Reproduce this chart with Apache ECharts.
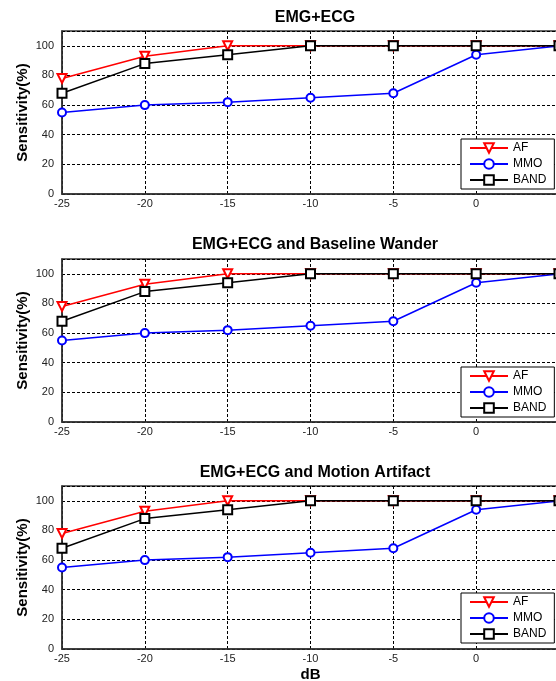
<!DOCTYPE html>
<html>
<head>
<meta charset="utf-8">
<script src="https://cdn.jsdelivr.net/npm/echarts@6/dist/echarts.min.js"></script>
<style>
html,body{margin:0;padding:0;background:#fff;}
#c{width:556px;height:681px;}
</style>
</head>
<body>
<div id="c"></div>
<script>
// ---- data ----
var xValues = [-25, -20, -15, -10, -5, 0, 5];
var panelTitles = ['EMG+ECG', 'EMG+ECG and Baseline Wander', 'EMG+ECG and Motion Artifact'];
var seriesNames = ['AF', 'MMO', 'BAND'];
// panel 1: EMG+ECG
var af1   = [78, 93, 100, 100, 100, 100, 100];
var mmo1  = [55, 60, 62, 65, 68, 94, 100];
var band1 = [68, 88, 94, 100, 100, 100, 100];
// panel 2: EMG+ECG and Baseline Wander
var af2   = [78, 93, 100, 100, 100, 100, 100];
var mmo2  = [55, 60, 62, 65, 68, 94, 100];
var band2 = [68, 88, 94, 100, 100, 100, 100];
// panel 3: EMG+ECG and Motion Artifact
var af3   = [78, 93, 100, 100, 100, 100, 100];
var mmo3  = [55, 60, 62, 65, 68, 94, 100];
var band3 = [68, 88, 94, 100, 100, 100, 100];
var yTicks = [0, 20, 40, 60, 80, 100];
var xAxisTitle = 'dB';
var yAxisTitle = 'Sensitivity(%)';

var panelData = [[af1, mmo1, band1], [af2, mmo2, band2], [af3, mmo3, band3]];

// ---- layout ----
var FONT = '"Liberation Sans", Arial, sans-serif';
var gridTops = [31, 259, 486];
var gridH = 163;
var titleTops = [5, 232, 460];
var legendTops = [139, 367, 593];
var colors = ['#ff0000', '#0000ff', '#000000'];
var symbols = ['emptyTriangle', 'emptyCircle', 'emptyRect'];
var symbolRot = [180, 0, 0];
var symbolSizes = [9, 8, 9];

function zip(xs, ys) { return xs.map(function (x, i) { return [x, ys[i]]; }); }

var grids = [], xAxes = [], yAxes = [], series = [], titles = [], legends = [];
for (var p = 0; p < 3; p++) {
  grids.push({ left: 62, top: gridTops[p], width: 497, height: gridH, show: true,
    outerBoundsMode: 'none', containLabel: false,
    borderColor: '#333', borderWidth: 1.5, backgroundColor: 'transparent' });
  titles.push({ text: panelTitles[p], left: 310, top: titleTops[p], textAlign: 'center',
    textStyle: { fontFamily: FONT, fontSize: 16, fontWeight: 'bold', color: '#000' } });
  xAxes.push({
    type: 'value', gridIndex: p, min: -25, max: 5, interval: 5,
    axisLine: { show: true, onZero: false, lineStyle: { color: '#333', width: 1.5 } },
    axisTick: { show: false },
    axisLabel: { fontFamily: FONT, fontSize: 11, color: '#222', margin: 4 },
    splitLine: { show: true, lineStyle: { type: [3, 2], color: '#000', width: 1 } },
    name: p === 2 ? xAxisTitle : '', nameLocation: 'middle', nameGap: 18,
    nameMoveOverlap: false,
    nameTextStyle: { fontFamily: FONT, fontSize: 15, fontWeight: 'bold', color: '#000' }
  });
  yAxes.push({
    type: 'value', gridIndex: p, min: 0, max: 110, interval: 20,
    axisLine: { show: true, onZero: false, lineStyle: { color: '#333', width: 1.5 } },
    axisTick: { show: false },
    axisLabel: { fontFamily: FONT, fontSize: 11, color: '#222', margin: 8,
      formatter: function (v) { return yTicks.indexOf(v) >= 0 ? String(v) : ''; } },
    splitLine: { show: true, lineStyle: { type: [3, 2], color: '#000', width: 1 } },
    name: yAxisTitle, nameLocation: 'middle', nameRotate: 90, nameGap: 32,
    nameMoveOverlap: false,
    nameTextStyle: { fontFamily: FONT, fontSize: 15, fontWeight: 'bold', color: '#000' }
  });
  for (var s = 0; s < 3; s++) {
    series.push({
      type: 'line', name: seriesNames[s], xAxisIndex: p, yAxisIndex: p,
      data: zip(xValues, panelData[p][s]),
      symbol: symbols[s], symbolRotate: symbolRot[s], symbolSize: symbolSizes[s],
      showAllSymbol: true, clip: false,
      lineStyle: { color: colors[s], width: 1.5 },
      itemStyle: { color: colors[s], borderWidth: 1.5 },
      emphasis: { disabled: true }, animation: false
    });
  }
  legends.push({
    orient: 'vertical', left: 461, top: legendTops[p],
    data: seriesNames.slice(),
    padding: [3, 8, 3, 8], itemWidth: 38, itemHeight: 12, itemGap: 4,
    backgroundColor: '#fff', borderColor: '#000', borderWidth: 1,
    textStyle: { fontFamily: FONT, fontSize: 12, color: '#000' },
    selectedMode: false
  });
}

var chart = echarts.init(document.getElementById('c'), null, { renderer: 'canvas' });
chart.setOption({
  animation: false,
  backgroundColor: '#fff',
  title: titles, grid: grids, xAxis: xAxes, yAxis: yAxes, series: series, legend: legends
});
</script>
</body>
</html>
